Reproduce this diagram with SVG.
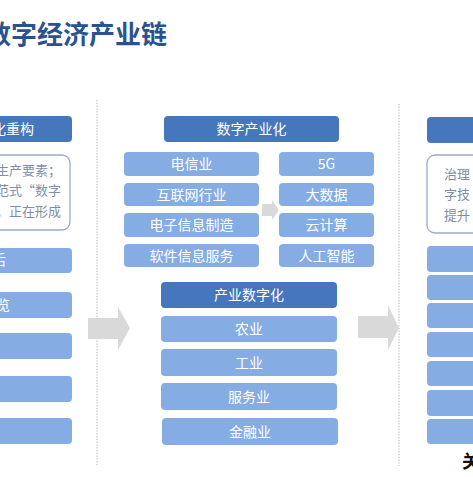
<svg xmlns="http://www.w3.org/2000/svg" width="473" height="477" viewBox="0 0 473 477">
<defs>
<style>
.t{font-family:"Noto Sans CJK SC","Liberation Sans",sans-serif;}
.hd{fill:#4677bd;}
.lt{fill:#85ade3;}
.tb{fill:#ffffff;stroke:#9aabc6;stroke-width:1.3;}
.wt{fill:#ffffff;font-size:14px;text-anchor:middle;}
.gt{fill:#7f8ea8;font-size:13px;}
.dl{stroke:#b8bcc4;stroke-width:1.2;stroke-dasharray:1.2 1.6;fill:none;}
.ar{fill:#d9d9d9;}
</style>
</defs>
<rect width="473" height="477" fill="#ffffff"/>
<text class="t" x="-15" y="44" font-size="26" font-weight="bold" fill="#2b528f">数字经济产业链</text>

<g id="connectors">
<line class="dl" x1="97" y1="100" x2="97" y2="466"/>
<line class="dl" x1="399" y1="104" x2="399" y2="466"/>
<polygon class="ar" points="88,318 118,318 118,307 130,328 118,350 118,339 88,339"/>
<polygon class="ar" points="358,316 388,316 388,305 399,328 388,350 388,338 358,338"/>
<polygon class="ar" points="262,204 272,204 272,200 279,210 272,220 272,216 262,216"/>
</g>

<g id="left">
<rect class="hd" x="-10" y="116" width="82" height="26" rx="4"/>
<text class="t wt" x="34" y="134" style="text-anchor:end">数字化重构</text>
<rect class="tb" x="-10" y="155" width="80" height="75" rx="8"/>
<text class="t gt" x="61" y="175" text-anchor="end">生产要素；</text>
<text class="t gt" x="61" y="195" text-anchor="end">范式“数字</text>
<text class="t gt" x="61" y="216" text-anchor="end">，正在形成</text>
<rect class="lt" x="-10" y="248" width="82" height="25" rx="4"/>
<text class="t wt" x="6" y="265" style="text-anchor:end">后</text>
<rect class="lt" x="-10" y="292" width="82" height="26" rx="4"/>
<text class="t wt" x="10" y="310" style="text-anchor:end">览</text>
<rect class="lt" x="-10" y="333" width="82" height="26" rx="4"/>
<rect class="lt" x="-10" y="376" width="82" height="26" rx="4"/>
<rect class="lt" x="-10" y="418" width="82" height="26" rx="4"/>
</g>

<g id="industry-digitization-top">
<rect class="hd" x="164" y="116" width="175" height="26" rx="4"/>
<text class="t wt" x="251.5" y="134">数字产业化</text>
</g>
<g id="left-sub">
<rect class="lt" x="124" y="152" width="135" height="24" rx="4"/>
<text class="t wt" x="191.5" y="169">电信业</text>
<rect class="lt" x="124" y="183" width="135" height="23" rx="4"/>
<text class="t wt" x="191.5" y="199.5">互联网行业</text>
<rect class="lt" x="124" y="213" width="135" height="24" rx="4"/>
<text class="t wt" x="191.5" y="230">电子信息制造</text>
<rect class="lt" x="124" y="244" width="135" height="23" rx="4"/>
<text class="t wt" x="191.5" y="260.5">软件信息服务</text>
</g>
<g id="right-sub">
<rect class="lt" x="279" y="152" width="95" height="24" rx="4"/>
<text class="t wt" x="326.5" y="169">5G</text>
<rect class="lt" x="279" y="183" width="95" height="23" rx="4"/>
<text class="t wt" x="326.5" y="199.5">大数据</text>
<rect class="lt" x="279" y="213" width="95" height="24" rx="4"/>
<text class="t wt" x="326.5" y="230">云计算</text>
<rect class="lt" x="279" y="244" width="95" height="23" rx="4"/>
<text class="t wt" x="326.5" y="260.5">人工智能</text>
</g>

<g id="digitization-of-industry">
<rect class="hd" x="161" y="282" width="176" height="26" rx="4"/>
<text class="t wt" x="249" y="300">产业数字化</text>
<rect class="lt" x="161" y="316" width="176" height="26" rx="4"/>
<text class="t wt" x="249" y="334">农业</text>
<rect class="lt" x="161" y="349" width="176" height="27" rx="4"/>
<text class="t wt" x="249" y="367.5">工业</text>
<rect class="lt" x="161" y="383" width="176" height="27" rx="4"/>
<text class="t wt" x="249" y="401.5">服务业</text>
<rect class="lt" x="162" y="418" width="176" height="27" rx="4"/>
<text class="t wt" x="250" y="436.5">金融业</text>
</g>

<g id="right">
<rect class="hd" x="427" y="117" width="60" height="26" rx="4"/>
<rect class="tb" x="427" y="155" width="60" height="78" rx="8"/>
<text class="t gt" x="444" y="179">治理</text>
<text class="t gt" x="444" y="199">字技</text>
<text class="t gt" x="444" y="220">提升</text>
<rect class="lt" x="427" y="246" width="60" height="26" rx="4"/>
<rect class="lt" x="427" y="275" width="60" height="25" rx="4"/>
<rect class="lt" x="427" y="303" width="60" height="25" rx="4"/>
<rect class="lt" x="427" y="332" width="60" height="25" rx="4"/>
<rect class="lt" x="427" y="361" width="60" height="25" rx="4"/>
<rect class="lt" x="427" y="390" width="60" height="26" rx="4"/>
<rect class="lt" x="427" y="419" width="60" height="25" rx="4"/>
<text class="t" x="462" y="468" font-size="18" font-weight="bold" fill="#111111">关</text>
</g>
</svg>
